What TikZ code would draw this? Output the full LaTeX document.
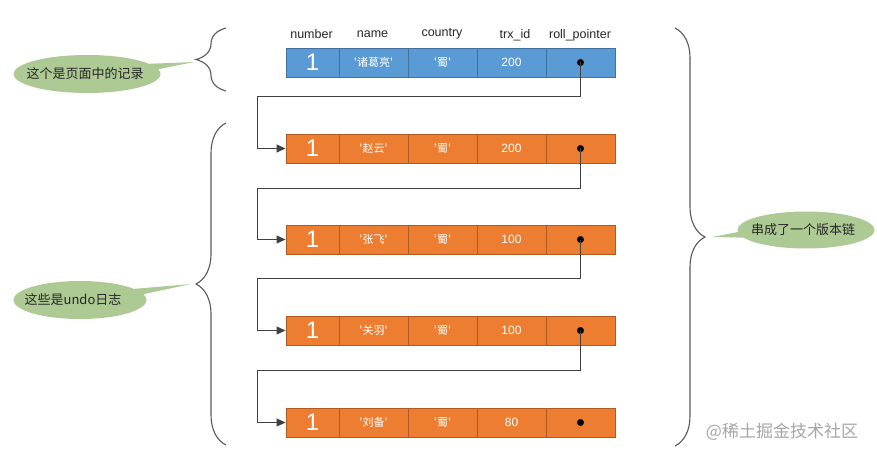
\documentclass[tikz,border=0pt]{standalone}
\usepackage{fontspec}
\setmainfont{Liberation Sans}
\newfontfamily\cjk{Noto Sans CJK SC}
\usetikzlibrary{arrows.meta,decorations.pathreplacing,shapes.callouts,shapes.geometric}
\definecolor{bluefill}{HTML}{5B9BD5}
\definecolor{blueline}{HTML}{41719C}
\definecolor{orfill}{HTML}{ED7D31}
\definecolor{orline}{HTML}{AE5A21}
\definecolor{greenfill}{HTML}{ADC994}
\definecolor{bracec}{HTML}{595959}
\definecolor{connc}{HTML}{404040}
\definecolor{hdrc}{HTML}{262626}
\definecolor{wmc}{HTML}{A6A6A6}
\tikzset{
  cell/.style={draw, line width=0.9pt, inner sep=0pt, minimum height=29pt, text=white},
  bluerow/.style={fill=bluefill, draw=blueline},
  orrow/.style={fill=orfill, draw=orline},
  numcell/.style={cell, minimum width=53pt, font=\fontsize{24}{24}\selectfont},
  widecell/.style={cell, minimum width=69pt, font=\fontsize{12}{12}\selectfont},
  cjkcell/.style={cell, minimum width=69pt, font=\cjk\fontsize{11}{11}\selectfont},
  hdr/.style={text=hdrc, font=\fontsize{12.5}{12.5}\selectfont, inner sep=0pt},
  dot/.style={circle, fill=black, inner sep=0pt, minimum size=7pt},
  conn/.style={draw=connc, line width=1pt, -{Triangle[length=9pt,width=8pt]}},
  bracepath/.style={draw=bracec, line width=1.1pt, decorate, decoration={brace, amplitude=30pt}},
  bubble/.style={ellipse callout, fill=greenfill, inner sep=0pt, callout pointer arc=18},
  bubbletext/.style={text=black!85, inner sep=0pt, font=\cjk\fontsize{13}{13}\selectfont},
}
\newcommand\mkrow[5]{%
  \node[numcell,#3] (#1a) at (312.5,#2) {1};
  \node[cjkcell,#3] (#1b) at (373.5,#2) {'#4'};
  \node[cjkcell,#3] (#1c) at (442.5,#2) {'蜀'};
  \node[widecell,#3] (#1d) at (511.5,#2) {#5};
  \node[widecell,#3] (#1e) at (580.5,#2) {};
  \node[dot] (#1p) at (580.5,#2) {};
}
\begin{document}
\begin{tikzpicture}[x=1pt,y=-1pt]
\useasboundingbox[fill=white] (0,0) rectangle (877,457);

% headers
\node[hdr] (h1) at (311.5,34) {number};
\node[hdr] (h2) at (372.5,34) {name};
\node[hdr] (h3) at (442,34) {country};
\node[hdr] (h4) at (515,35.5) {trx\_id};
\node[hdr] (h5) at (580,35.5) {roll\_pointer};

% rows
\mkrow{r0}{62.5}{bluerow}{诸葛亮}{200}
\mkrow{r1}{148.5}{orrow}{赵云}{200}
\mkrow{r2}{239.5}{orrow}{张飞}{100}
\mkrow{r3}{330.5}{orrow}{关羽}{100}
\mkrow{r4}{422.5}{orrow}{刘备}{80}

% bend points
\coordinate (k0) at (257,97);
\coordinate (k1) at (257,188);
\coordinate (k2) at (257,278);
\coordinate (k3) at (257,370);

\draw[conn] (r0p.center) |- (k0) |- (r1a.west);
\draw[conn] (r1p.center) |- (k1) |- (r2a.west);
\draw[conn] (r2p.center) |- (k2) |- (r3a.west);
\draw[conn] (r3p.center) |- (k3) |- (r4a.west);

% braces
\coordinate (b1s) at (226,91);
\coordinate (b1e) at (226,28);
\coordinate (b2s) at (226,445);
\coordinate (b2e) at (226,123);
\coordinate (b3s) at (675,28);
\coordinate (b3e) at (675,446);
\draw[bracepath] (b1s) -- (b1e);
\draw[bracepath] (b2s) -- (b2e);
\draw[bracepath] (b3s) -- (b3e);

\coordinate (t1) at (194,62);
\coordinate (t2) at (191,284);
\coordinate (t3) at (712,237);

% callouts
\node[bubble, minimum width=147pt, minimum height=38pt, callout absolute pointer=(t1)] (c1) at (87,74) {};
\node[bubble, minimum width=133pt, minimum height=38pt, callout absolute pointer=(t2)] (c2) at (80,300) {};
\node[bubble, minimum width=137pt, minimum height=37pt, callout absolute pointer=(t3)] (c3) at (806,230) {};
\node[bubbletext] (c1t) at (85,74) {这个是页面中的记录};
\node[bubbletext] (c2t) at (73,300) {这些是undo日志};
\node[bubbletext] (c3t) at (803,230) {串成了一个版本链};

% watermark
\node[text=wmc, font=\cjk\fontsize{17}{17}\selectfont, inner sep=0pt] (wm) at (782,432) {@稀土掘金技术社区};
\end{tikzpicture}
\end{document}
